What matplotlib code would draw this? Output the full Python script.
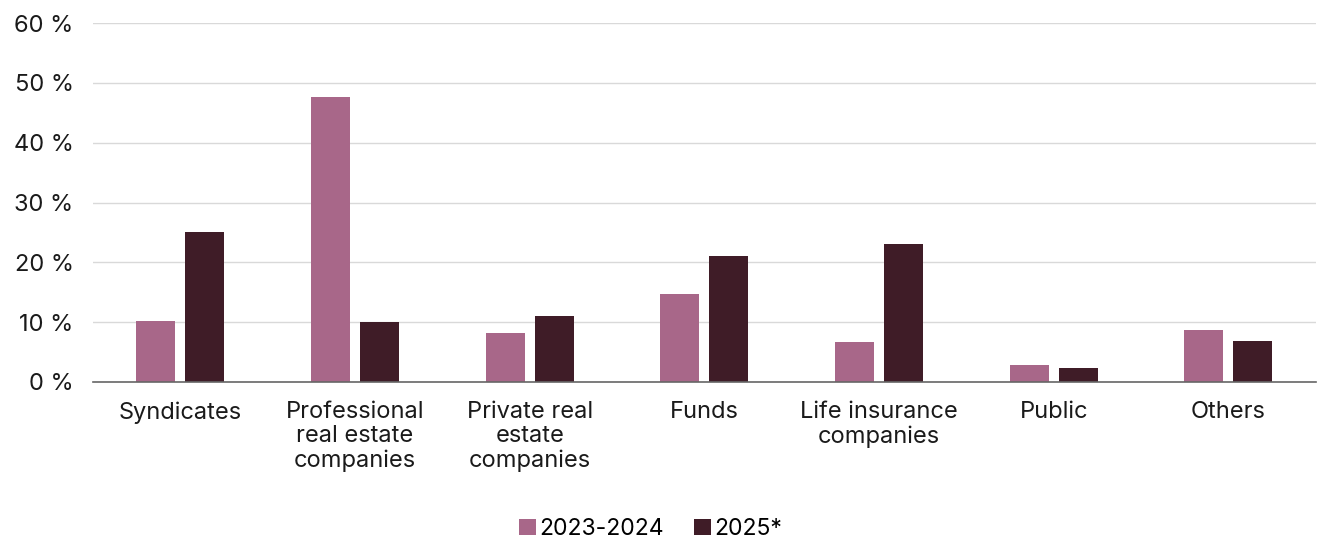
import numpy as np
import matplotlib.pyplot as plt

plt.rcParams['font.family'] = ['Inter', 'DejaVu Sans']

categories = ["Syndicates", "Professional\nreal estate\ncompanies", "Private real\nestate\ncompanies",
              "Funds", "Life insurance\ncompanies", "Public", "Others"]
share_2023_2024 = [10.2, 47.7, 8.2, 14.7, 6.7, 2.8, 8.7]
share_2025 = [25.0, 10.0, 11.0, 21.0, 23.0, 2.3, 6.9]
yticks = [0, 10, 20, 30, 40, 50, 60]

pink = "#A86789"
dark = "#3F1C27"

fig = plt.figure(figsize=(13.25, 5.39), dpi=100)
ax = fig.add_axes([0.0702, 0.2913, 0.9228, 0.6660])

x = np.arange(len(categories))
w = 0.223
ax.bar(x - 0.14, share_2023_2024, w, color=pink, label="2023-2024")
ax.bar(x + 0.14, share_2025, w, color=dark, label="2025*")

ax.set_xlim(-0.5, len(categories) - 0.5)
ax.set_ylim(0, 60)
ax.set_yticks(yticks)
ax.set_yticklabels([f"{t} %" for t in yticks])
ax.set_xticks(x)
ax.set_xticklabels(categories, linespacing=1.12)
ax.tick_params(axis='both', length=0, labelsize=17, labelcolor="#1a1a1a")
ax.tick_params(axis='x', pad=14)
ax.tick_params(axis='y', pad=14)

ax.grid(axis='y', color="#d9d9d9", linewidth=1)
ax.set_axisbelow(True)
for s in ['top', 'right', 'left']:
    ax.spines[s].set_visible(False)
ax.spines['bottom'].set_color("#666666")
ax.spines['bottom'].set_linewidth(1.2)

fig.legend(loc='lower center', bbox_to_anchor=(0.491, -0.04), ncol=2, frameon=False,
           fontsize=16.5, handlelength=0.75, handleheight=0.75, handletextpad=0.15, columnspacing=1.3)

fig.savefig("out.png", dpi=100)
